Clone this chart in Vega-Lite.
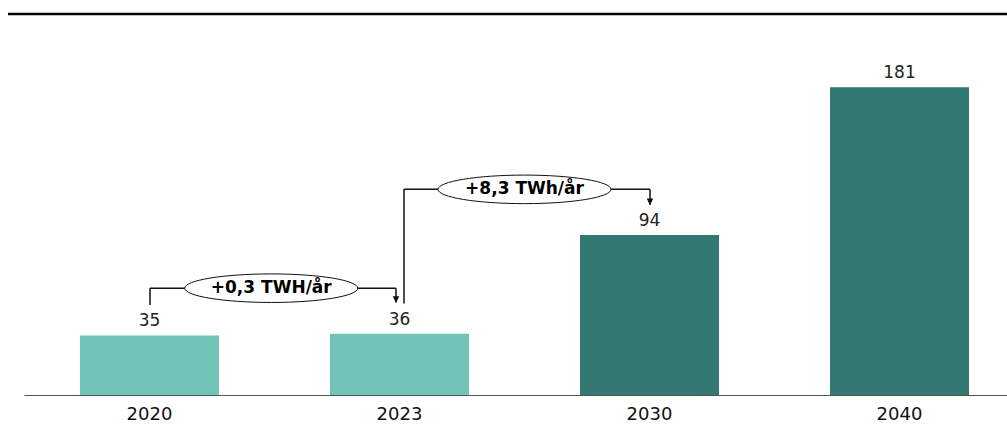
{
  "$schema": "https://vega.github.io/schema/vega-lite/v6.json",
  "width": 999,
  "height": 381,
  "autosize": {"type": "none"},
  "padding": {"left": 8, "top": 14, "right": 0, "bottom": 51},
  "background": "white",
  "config": {
    "view": {"stroke": null},
    "font": "DejaVu Sans"
  },
  "datasets": {
    "bars": [
      {"year": "2020", "pos": 0, "value": 35, "group": "historisk"},
      {"year": "2023", "pos": 1, "value": 36, "group": "historisk"},
      {"year": "2030", "pos": 2, "value": 94, "group": "prognose"},
      {"year": "2040", "pos": 3, "value": 181, "group": "prognose"}
    ],
    "segments": [
      {"x": 0.002, "y": 52.9, "x2": 0.002, "y2": 62.8},
      {"x": 0.002, "y": 62.8, "x2": 0.986, "y2": 62.8},
      {"x": 0.986, "y": 62.8, "x2": 0.986, "y2": 54.4},
      {"x": 1.018, "y": 53.8, "x2": 1.018, "y2": 120.9},
      {"x": 1.018, "y": 120.9, "x2": 2.002, "y2": 120.9},
      {"x": 2.002, "y": 120.9, "x2": 2.002, "y2": 111.8}
    ],
    "arrows": [
      {"x": 0.986, "y": 54.4},
      {"x": 2.002, "y": 111.8}
    ],
    "notes": [
      {"x": 0.487, "y": 62.8, "text": "+0,3 TWH/år"},
      {"x": 1.5, "y": 120.9, "text": "+8,3 TWh/år"}
    ]
  },
  "layer": [
    {
      "data": {"name": "bars"},
      "mark": {"type": "bar", "width": 139, "orient": "vertical"},
      "encoding": {
        "x": {
          "field": "pos",
          "type": "quantitative",
          "scale": {"domain": [-0.566, 3.43], "nice": false, "zero": false, "padding": 0},
          "axis": {
            "title": null,
            "labels": false,
            "ticks": false,
            "tickSize": 0,
            "grid": false,
            "domain": true,
            "domainColor": "#555555",
            "domainWidth": 1,
            "domainDash": [0, 16, 3000, 0]
          }
        },
        "y": {
          "field": "value",
          "type": "quantitative",
          "stack": null,
          "scale": {"domain": [0, 224], "nice": false, "padding": 0},
          "axis": null
        },
        "color": {
          "field": "group",
          "type": "nominal",
          "scale": {"domain": ["historisk", "prognose"], "range": ["#70C3B5", "#327873"]},
          "legend": null
        }
      }
    },
    {
      "data": {"name": "bars"},
      "mark": {"type": "text", "baseline": "alphabetic", "align": "center", "dy": -9, "fontSize": 17, "color": "#222222"},
      "encoding": {
        "x": {"field": "pos", "type": "quantitative"},
        "y": {"field": "value", "type": "quantitative"},
        "text": {"field": "value", "type": "quantitative"}
      }
    },
    {
      "data": {"name": "bars"},
      "mark": {"type": "text", "baseline": "alphabetic", "align": "center", "dy": 25, "fontSize": 18, "color": "#111111"},
      "encoding": {
        "x": {"field": "pos", "type": "quantitative"},
        "y": {"datum": 0, "type": "quantitative"},
        "text": {"field": "year", "type": "nominal"}
      }
    },
    {
      "data": {"name": "segments"},
      "mark": {"type": "rule", "color": "#111111", "strokeWidth": 1.5},
      "encoding": {
        "x": {"field": "x", "type": "quantitative"},
        "x2": {"field": "x2"},
        "y": {"field": "y", "type": "quantitative"},
        "y2": {"field": "y2"}
      }
    },
    {
      "data": {"name": "arrows"},
      "mark": {"type": "point", "shape": "M -1 -1 L 1 -1 L 0 1 Z", "size": 44, "filled": true, "color": "#111111", "opacity": 1, "yOffset": -3},
      "encoding": {
        "x": {"field": "x", "type": "quantitative"},
        "y": {"field": "y", "type": "quantitative"}
      }
    },
    {
      "data": {"name": "notes"},
      "mark": {"type": "point", "shape": "M -1 0 A 1 0.165 0 1 0 1 0 A 1 0.165 0 1 0 -1 0 Z", "size": 29929, "filled": true, "fill": "white", "stroke": "#111111", "strokeWidth": 1, "opacity": 1},
      "encoding": {
        "x": {"field": "x", "type": "quantitative"},
        "y": {"field": "y", "type": "quantitative"}
      }
    },
    {
      "data": {"name": "notes"},
      "mark": {"type": "text", "fontWeight": "bold", "fontSize": 17, "align": "center", "baseline": "middle", "color": "#000000"},
      "encoding": {
        "x": {"field": "x", "type": "quantitative"},
        "y": {"field": "y", "type": "quantitative"},
        "text": {"field": "text", "type": "nominal"}
      }
    },
    {
      "data": {"values": [{}]},
      "mark": {"type": "rule", "color": "#000000", "strokeWidth": 2.5},
      "encoding": {
        "y": {"datum": 224, "type": "quantitative"}
      }
    }
  ]
}
